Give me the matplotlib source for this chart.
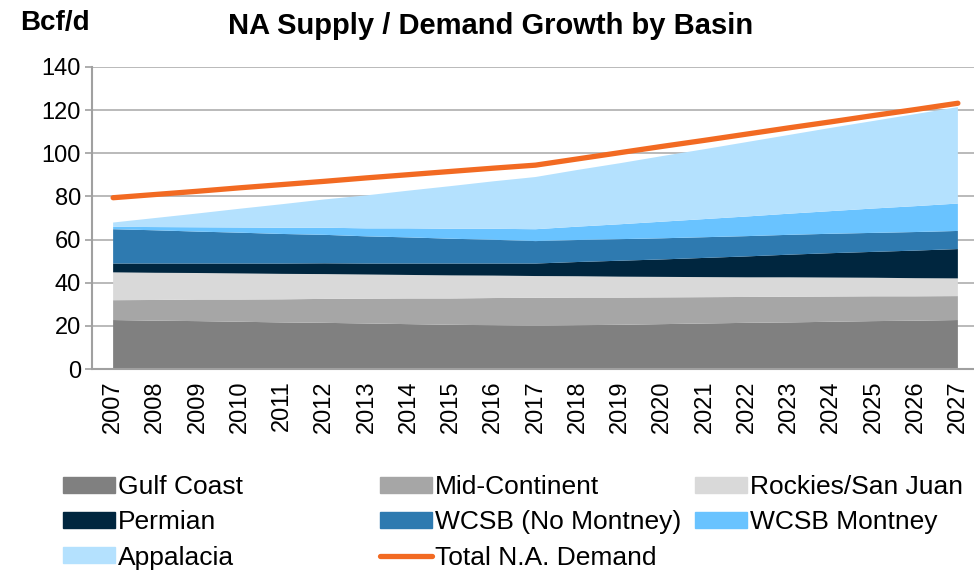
import numpy as np
import matplotlib.pyplot as plt
from matplotlib.patches import Patch
from matplotlib.lines import Line2D

plt.rcParams['font.family'] = ['Liberation Sans', 'DejaVu Sans']

years = list(range(2007, 2028))

# Bcf/d
gulf_coast = [22.7, 22.4, 22.2, 21.9, 21.6, 21.4, 21.1, 20.8, 20.5, 20.3, 20.0,
              20.3, 20.5, 20.8, 21.1, 21.4, 21.6, 21.9, 22.2, 22.4, 22.7]
mid_continent = [9.2, 9.6, 10.0, 10.3, 10.7, 11.1, 11.5, 11.9, 12.2, 12.6, 13.0,
                 12.8, 12.6, 12.4, 12.2, 12.0, 11.9, 11.7, 11.5, 11.3, 11.1]
rockies = [12.9, 12.6, 12.3, 12.1, 11.8, 11.5, 11.2, 10.9, 10.7, 10.4, 10.1,
           9.9, 9.7, 9.5, 9.3, 9.1, 9.0, 8.8, 8.6, 8.4, 8.2]
permian = [4.1, 4.3, 4.4, 4.6, 4.8, 5.0, 5.1, 5.3, 5.5, 5.6, 5.8,
           6.6, 7.4, 8.1, 8.9, 9.7, 10.5, 11.3, 12.0, 12.8, 13.6]
wcsb = [15.9, 15.4, 14.8, 14.3, 13.7, 13.2, 12.6, 12.1, 11.5, 11.0, 10.4,
        10.2, 10.0, 9.8, 9.6, 9.4, 9.2, 9.0, 8.8, 8.6, 8.4]
montney = [1.1, 1.5, 2.0, 2.4, 2.9, 3.3, 3.7, 4.2, 4.6, 5.1, 5.5,
           6.2, 6.9, 7.7, 8.4, 9.1, 9.8, 10.5, 11.3, 12.0, 12.7]
appalacia = [2.0, 4.2, 6.4, 8.7, 10.9, 13.1, 15.3, 17.5, 19.8, 22.0, 24.2,
             26.3, 28.3, 30.4, 32.4, 34.5, 36.5, 38.6, 40.6, 42.7, 44.7]
demand = [79.4, 80.9, 82.4, 84.0, 85.5, 87.0, 88.6, 90.1, 91.6, 93.1, 94.5,
          97.4, 100.3, 103.2, 106.0, 108.9, 111.8, 114.6, 117.5, 120.3, 123.2]

names = ['Gulf Coast', 'Mid-Continent', 'Rockies/San Juan', 'Permian',
         'WCSB (No Montney)', 'WCSB Montney', 'Appalacia']
colors = ['#808080', '#A6A6A6', '#D9D9D9', '#00263F', '#2E7AB0', '#69C3FF', '#B4E1FE']
orange = '#F26A22'

fig = plt.figure(figsize=(9.74, 5.72), dpi=100)
ax = fig.add_axes([92 / 974, 1 - 369 / 572, 887 / 974, 302 / 572])

x = np.arange(len(years))
ax.stackplot(x, gulf_coast, mid_continent, rockies, permian, wcsb, montney, appalacia,
             colors=colors, linewidth=0, zorder=2)
ax.plot(x, demand, color=orange, lw=3.8, solid_capstyle='round', zorder=3)

ax.set_xlim(-0.5, len(years) - 0.5)
ax.set_ylim(0, 140)
ax.set_yticks(range(0, 141, 20))
ax.set_xticks(x)
ax.set_xticklabels([str(y) for y in years], rotation=90, fontsize=17)
ax.tick_params(axis='y', labelsize=17, length=5, width=1.2, color='#A0A0A0', pad=3)
ax.tick_params(axis='x', length=0, pad=8)
ax.grid(axis='y', color='#B4B4B4', lw=1.3, zorder=0)
ax.set_axisbelow(True)
for s in ['top', 'right']:
    ax.spines[s].set_visible(False)
for s in ['left', 'bottom']:
    ax.spines[s].set_color('#A0A0A0')
    ax.spines[s].set_linewidth(1.5)

fig.text(20 / 974, 1 - 23 / 572, 'Bcf/d', fontsize=20, fontweight='bold', va='center')
fig.text(491 / 974, 1 - 26 / 572, 'NA Supply / Demand Growth by Basin',
         fontsize=21, fontweight='bold', ha='center', va='center')

# legend: three fixed-width columns like the original
handles = [Patch(color=c) for c in colors]
handles.append(Line2D([], [], color=orange, lw=3.8, solid_capstyle='round'))
labels = names + ['Total N.A. Demand']
cols = [[0, 3, 6], [1, 4, 7], [2, 5]]
col_x = [63, 380, 695]
for cx, idx in zip(col_x, cols):
    leg = fig.legend([handles[i] for i in idx], [labels[i] for i in idx],
                     loc='upper left', bbox_to_anchor=(cx / 974, 1 - 475 / 572),
                     frameon=False, fontsize=19, handlelength=1.97, handleheight=0.55,
                     handletextpad=0.12, labelspacing=0.43, borderaxespad=0,
                     borderpad=0)

fig.savefig('out.png', dpi=100)
